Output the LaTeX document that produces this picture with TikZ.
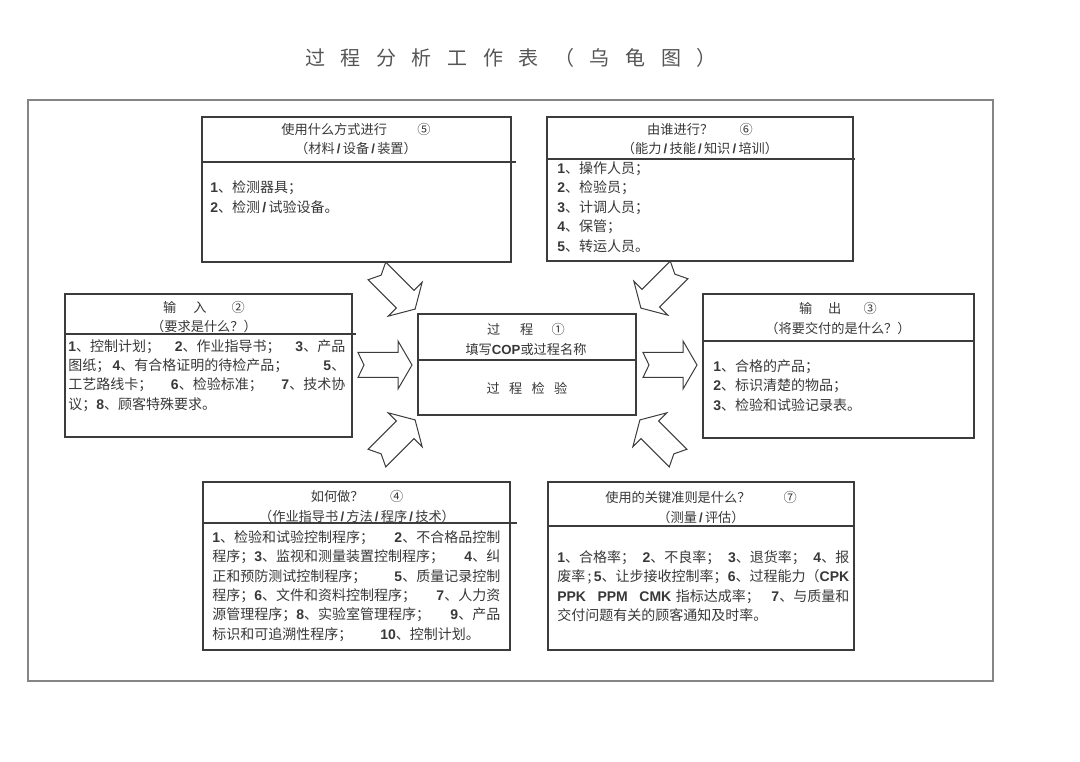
\documentclass[tikz,border=0pt]{standalone}
\usepackage{fontspec}
\newfontfamily\cjk{Noto Sans CJK SC}
\newfontfamily\arial{Liberation Sans}
\newcommand\nb[1]{{\arial\bfseries #1}}
\definecolor{boxgray}{HTML}{3C3C3C}
\definecolor{framegray}{HTML}{858585}
\definecolor{txtgray}{HTML}{383838}
\definecolor{titlegray}{HTML}{555555}

\tikzset{
	boxline/.style={draw=boxgray, line width=0.9pt},
	titletext/.style={font=\cjk\fontsize{15}{18}\selectfont, text=titlegray, inner sep=0pt},
	headtext/.style={font=\cjk\fontsize{9.9}{14.3}\selectfont, text=txtgray, align=center, anchor=north, inner sep=0pt},
	bodytext/.style={font=\cjk\fontsize{10.5}{14.6}\selectfont, text=txtgray, align=left, anchor=north west, inner sep=0pt},
	fatarrow/.pic={
		\draw[draw=boxgray, line width=0.75pt, fill=white, line join=miter]
			(-27,-12.5) -- (-21,0) -- (-27,12.5) -- (13,12.5) -- (13,24) -- (27,0)
			-- (13,-24) -- (13,-12.5) -- cycle;
	}
}

\begin{document}
\begin{tikzpicture}[x=0.75pt, y=-0.75pt]
		\useasboundingbox (0,0) rectangle (1080,762);
		% title
		\foreach \ch [count=\i] in {过,程,分,析,工,作,表,（,乌,龟,图,）}
			\node[titletext] (title\i) at ({315+35.6*(\i-1)}, 58) {\ch};
		% outer frame
		\draw[framegray, line width=0.8pt] (28, 100) rectangle (993, 681);

		% boxes
		\draw[boxline] (202, 117) rectangle (511, 262);
		\draw[boxline] (202, 162) -- (516, 162);
		\draw[boxline] (547, 117) rectangle (853, 261);
		\draw[boxline] (547, 159) -- (855, 159);
		\draw[boxline] (65, 294) rectangle (352, 437);
		\draw[boxline] (65, 334) -- (356, 334);
		\draw[boxline, line width=1.3pt] (65, 437) -- (352, 437);
		\draw[boxline] (418, 314) rectangle (636, 415);
		\draw[boxline] (418, 360) -- (636, 360);
		\draw[boxline] (703, 294) rectangle (974, 438);
		\draw[boxline] (703, 341) -- (974, 341);
		\draw[boxline] (203, 482) rectangle (510, 650);
		\draw[boxline] (203, 523) -- (517, 523);
		\draw[boxline] (548, 482) rectangle (854, 650);
		\draw[boxline] (548, 526) -- (854, 526);

		% arrows
		\pic[rotate=-45] at (396, 290) {fatarrow};
		\pic[rotate=-135] at (660, 289) {fatarrow};
		\pic at (385, 365) {fatarrow};
		\pic at (670, 365) {fatarrow};
		\pic[rotate=45] at (396, 439) {fatarrow};
		\pic[rotate=135] at (659, 439) {fatarrow};

		% texts
		\node[headtext] (toolhead) at (356, 123.5) {使用什么方式进行\hspace{2.3em}⑤\\（材料\,\nb{/}\,设备\,\nb{/}\,装置）};
		\node[bodytext] (toolbody) at (210, 180.5) {\nb{1}、检测器具；\\\nb{2}、检测\,\nb{/}\,试验设备。};

		\node[headtext] (whohead) at (700, 123.5) {由谁进行？\hspace{2em}⑥\\（能力\,\nb{/}\,技能\,\nb{/}\,知识\,\nb{/}\,培训）};
		\node[bodytext] (whobody) at (557, 161.5) {\nb{1}、操作人员；\\\nb{2}、检验员；\\\nb{3}、计调人员；\\\nb{4}、保管；\\\nb{5}、转运人员。};

		\node[headtext] (inhead) at (204, 301.5) {输\hspace{1.3em}入\hspace{1.9em}②\\（要求是什么？）};
		\node[bodytext, text width=277*0.75pt] (inbody) at (68, 339)
			{\nb{1}、控制计划；\hfill\nb{2}、作业指导书；\hfill\nb{3}、产品\\
			图纸；\,\nb{4}、有合格证明的待检产品；\hfill\nb{5}、\\
			工艺路线卡；\hfill\nb{6}、检验标准；\hfill\nb{7}、技术协\\
			议；\nb{8}、顾客特殊要求。};

		\node[headtext] (prochead) at (526, 323.5) {过\hspace{1.5em}程\hspace{1.4em}①\\填写\nb{COP}或过程名称};
		\node[headtext, anchor=center] (procname) at (527, 388) {过\hspace{0.7em}程\hspace{0.7em}检\hspace{0.7em}验};

		\node[headtext] (outhead) at (838, 302.5) {输\hspace{1.2em}出\hspace{1.7em}③\\（将要交付的是什么？）};
		\node[bodytext] (outbody) at (713, 359) {\nb{1}、合格的产品；\\\nb{2}、标识清楚的物品；\\\nb{3}、检验和试验记录表。};

		\node[headtext] (howhead) at (357, 490.5) {如何做？\hspace{2em}④\\（作业指导书\,\nb{/}\,方法\,\nb{/}\,程序\,\nb{/}\,技术）};
		\node[bodytext, text width=288*0.75pt] (howbody) at (212, 530)
			{\nb{1}、检验和试验控制程序；\hfill\nb{2}、不合格品控制\\
			程序；\nb{3}、监视和测量装置控制程序；\hfill\nb{4}、纠\\
			正和预防测试控制程序；\hfill\nb{5}、质量记录控制\\
			程序；\nb{6}、文件和资料控制程序；\hfill\nb{7}、人力资\\
			源管理程序；\nb{8}、实验室管理程序；\hfill\nb{9}、产品\\
			标识和可追溯性程序；\hspace{2em}\nb{10}、控制计划。};

		\node[headtext] (crithead) at (701, 491.5) {使用的关键准则是什么？\hspace{2.5em}⑦\\（测量\,\nb{/}\,评估）};
		\node[bodytext, text width=292*0.75pt] (critbody) at (557, 550)
			{\nb{1}、合格率；\hfill\nb{2}、不良率；\hfill\nb{3}、退货率；\hfill\nb{4}、报\\
			\leavevmode\hbox to \linewidth{废率\,;\,\nb{5}、让步接收控制率；\hfill\nb{6}、过程能力（\nb{CPK}}\\
			\nb{PPK}\hfill\nb{PPM}\hfill\nb{CMK} 指标达成率；\hfill\nb{7}、与质量和\\
			交付问题有关的顾客通知及时率。};
	\end{tikzpicture}
\end{document}
